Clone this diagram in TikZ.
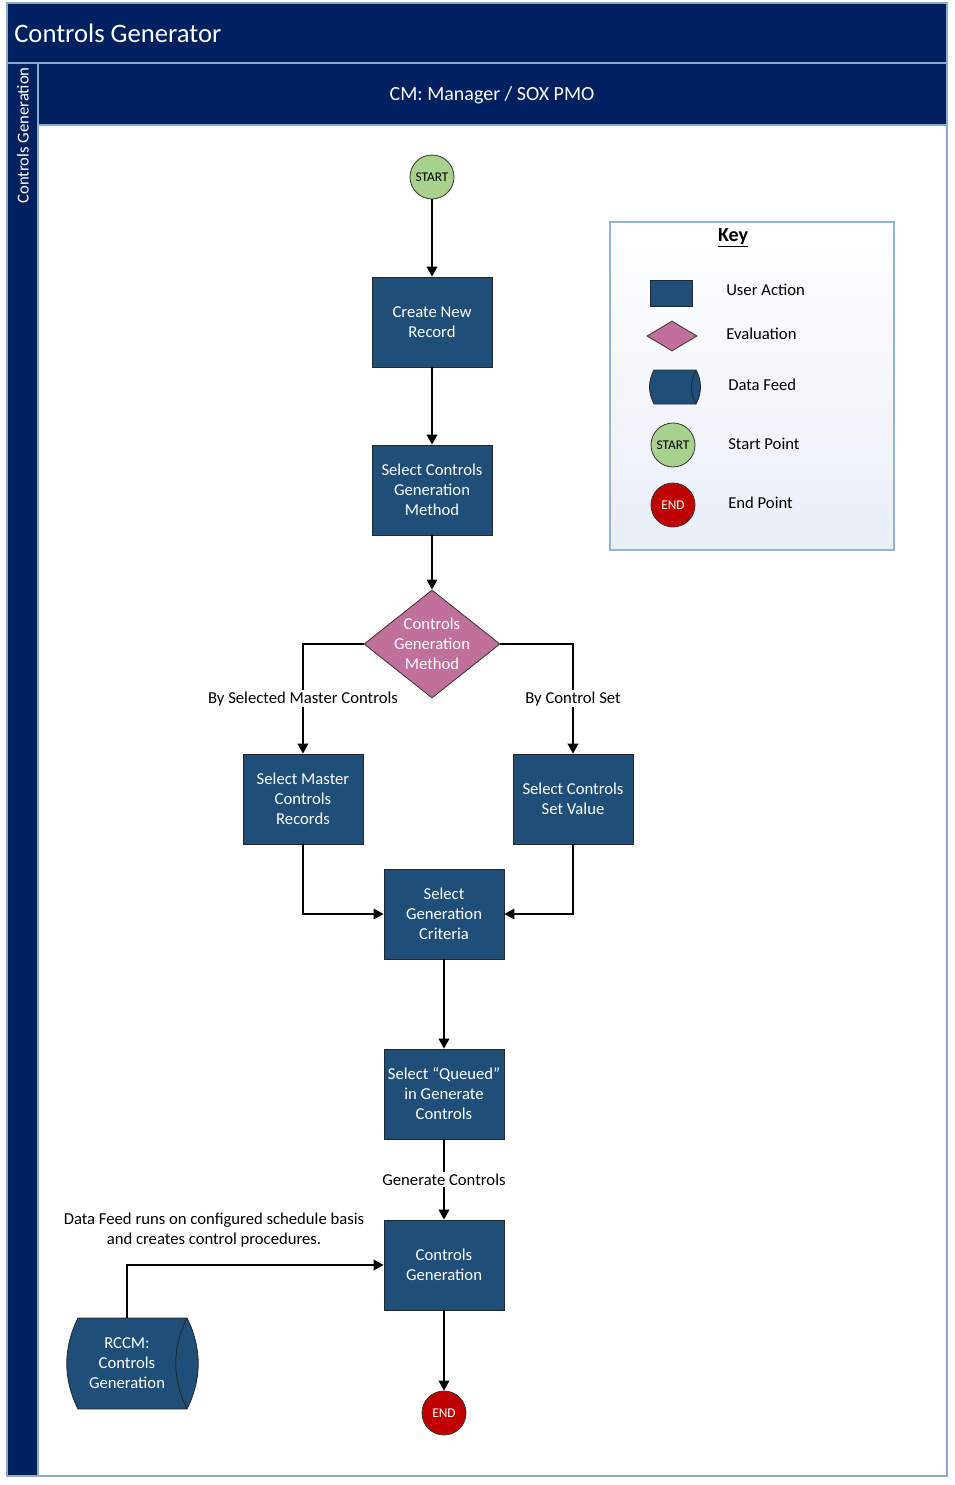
\documentclass[tikz,border=0pt]{standalone}
\usepackage{fontspec}
\setmainfont{Carlito}
\usepackage{xcolor}
\usepackage{tikz}
\usetikzlibrary{arrows.meta,shapes.geometric,positioning}
\definecolor{navy}{HTML}{002060}
\definecolor{boxblue}{HTML}{1F4E79}
\definecolor{frameblue}{HTML}{8EA9CF}
\definecolor{evalpink}{HTML}{C0709A}
\definecolor{startgreen}{HTML}{A9D18E}
\definecolor{endred}{HTML}{C00000}
\definecolor{keyline}{HTML}{95B3D7}
\definecolor{keyfill}{HTML}{E9EFF8}
\tikzset{
  frameline/.style={draw=frameblue, line width=0.8pt},
  action/.style={rectangle, draw=black!85, fill=boxblue, text=white, line width=0.6pt,
    minimum width=90pt, minimum height=67.5pt, inner sep=1pt, align=center,
    font=\fontsize{12.5}{15}\selectfont},
  decision/.style={diamond, draw=black!80, fill=evalpink, line width=0.6pt,
    minimum width=102pt, minimum height=81pt, inner sep=0pt},
  startpt/.style={circle, draw=black!80, fill=startgreen, line width=0.6pt,
    minimum size=33pt, inner sep=0pt, font=\fontsize{10}{12}\selectfont},
  endpt/.style={circle, draw=black!80, fill=endred, text=white, line width=0.6pt,
    minimum size=33pt, inner sep=0pt, font=\fontsize{10}{12}\selectfont},
  feedline/.style={draw=black!85, fill=boxblue, line width=0.6pt},
  feedtext/.style={text=white, align=center, inner sep=0pt, font=\fontsize{12.5}{15}\selectfont},
  flow/.style={-{Triangle[length=7.5pt,width=8pt]}, line width=1.1pt, draw=black},
  flowlabel/.style={fill=white, inner sep=1pt, font=\fontsize{12.5}{14}\selectfont},
  keytext/.style={anchor=west, inner sep=0pt, font=\fontsize{12.5}{14}\selectfont}
}

\begin{document}
\begin{tikzpicture}[x=0.75pt,y=-0.75pt]
  \useasboundingbox (0,0) rectangle (954,1485);
  \fill[white] (0,0) rectangle (954,1485);
  % pool, lane and phase headers
  \fill[navy] (7,3) rectangle (947,63);
  \fill[navy] (38,63) rectangle (947,125);
  \fill[navy] (7,63) rectangle (38,1476);
  \draw[frameline] (7,3) rectangle (947,1476);
  \draw[frameline] (7,63) -- (947,63);
  \draw[frameline] (38,63) -- (38,1476);
  \draw[frameline] (38,125) -- (947,125);
  \node[text=white, anchor=west, inner sep=0pt, font=\fontsize{20}{22}\selectfont] (title) at (14,33) {Controls Generator};
  \node[text=white, inner sep=0pt, font=\fontsize{15}{17}\selectfont] (lane) at (492,95) {CM: Manager / SOX PMO};
  \node[text=white, rotate=90, anchor=east, inner sep=0pt, font=\fontsize{12.5}{14}\selectfont] (phase) at (23,67) {Controls Generation};

  % flow
  \node[startpt] (start) at (432,177) {START};
  \node[action] (create) at (432,322) {Create New\\Record};
  \node[action] (selmethod) at (432,490) {Select Controls\\Generation\\Method};
  \node[decision, label={[text=white, align=center, font=\fontsize{12.5}{15}\selectfont]center:Controls\\Generation\\Method}] (method) at (432,644) {};
  \node[action] (master) at (303,799) {Select Master\\Controls\\Records};
  \node[action] (setval) at (573,799) {Select Controls\\Set Value};
  \node[action] (criteria) at (444,914) {Select\\Generation\\Criteria};
  \node[action] (queued) at (444,1094) {Select ``Queued''\\in Generate\\Controls};
  \node[action] (cgen) at (444,1265) {Controls\\Generation};
  \node[endpt] (stop) at (444,1413) {END};

  % data feed
  \draw[feedline] (78,1318) -- (187,1318) .. controls (202,1348) and (202,1379) .. (187,1409)
    -- (78,1409) .. controls (63,1379) and (63,1348) .. (78,1318) -- cycle;
  \draw[feedline, fill=none] (187,1318) .. controls (172,1348) and (172,1379) .. (187,1409);
  \node[feedtext, minimum height=68.25pt] (feed) at (127,1363.5) {RCCM:\\Controls\\Generation};
  \node[align=center, inner sep=0pt, font=\fontsize{12.5}{15}\selectfont] (note) at (214,1230) {Data Feed runs on configured schedule basis\\and creates control procedures.};

  \draw[flow] (start) -- (create);
  \draw[flow] (create) -- (selmethod);
  \draw[flow] (selmethod) -- (method);
  \draw[flow] (method.west) -| (master.north) node[flowlabel, pos=0.75] {By Selected Master Controls};
  \draw[flow] (method.east) -| (setval.north) node[flowlabel, pos=0.75] {By Control Set};
  \draw[flow] (master.south) |- (criteria.west);
  \draw[flow] (setval.south) |- (criteria.east);
  \draw[flow] (criteria) -- (queued);
  \draw[flow] (queued) -- (cgen) node[flowlabel, midway] {Generate Controls};
  \draw[flow] (feed.north) |- (cgen.west);
  \draw[flow] (cgen) -- (stop);

  % key
  \path[top color=white, bottom color=keyfill, draw=keyline, line width=0.8pt] (610,222) rectangle (894,550);
  \node[font=\bfseries\fontsize{15}{17}\selectfont, inner sep=0pt] (keyhead) at (733,238) {\underline{Key}};
  \node[action, minimum width=32pt, minimum height=19.5pt] (keyact) at (671.5,293) {};
  \node[keytext] at (726,290) {User Action};
  \node[decision, minimum width=37.5pt, minimum height=22.5pt] (keyeval) at (672,336) {};
  \node[keytext] at (726,334) {Evaluation};
  \draw[feedline] (654,370) -- (696,370) .. controls (702,381) and (702,393) .. (696,404)
    -- (654,404) .. controls (648,393) and (648,381) .. (654,370) -- cycle;
  \draw[feedline, fill=none] (696,370) .. controls (690,381) and (690,393) .. (696,404);
  \node[keytext] at (728,385) {Data Feed};
  \node[startpt] (keystart) at (673,445) {START};
  \node[keytext] at (728,444) {Start Point};
  \node[endpt] (keyend) at (673,505) {END};
  \node[keytext] at (728,503) {End Point};
\end{tikzpicture}
\end{document}
